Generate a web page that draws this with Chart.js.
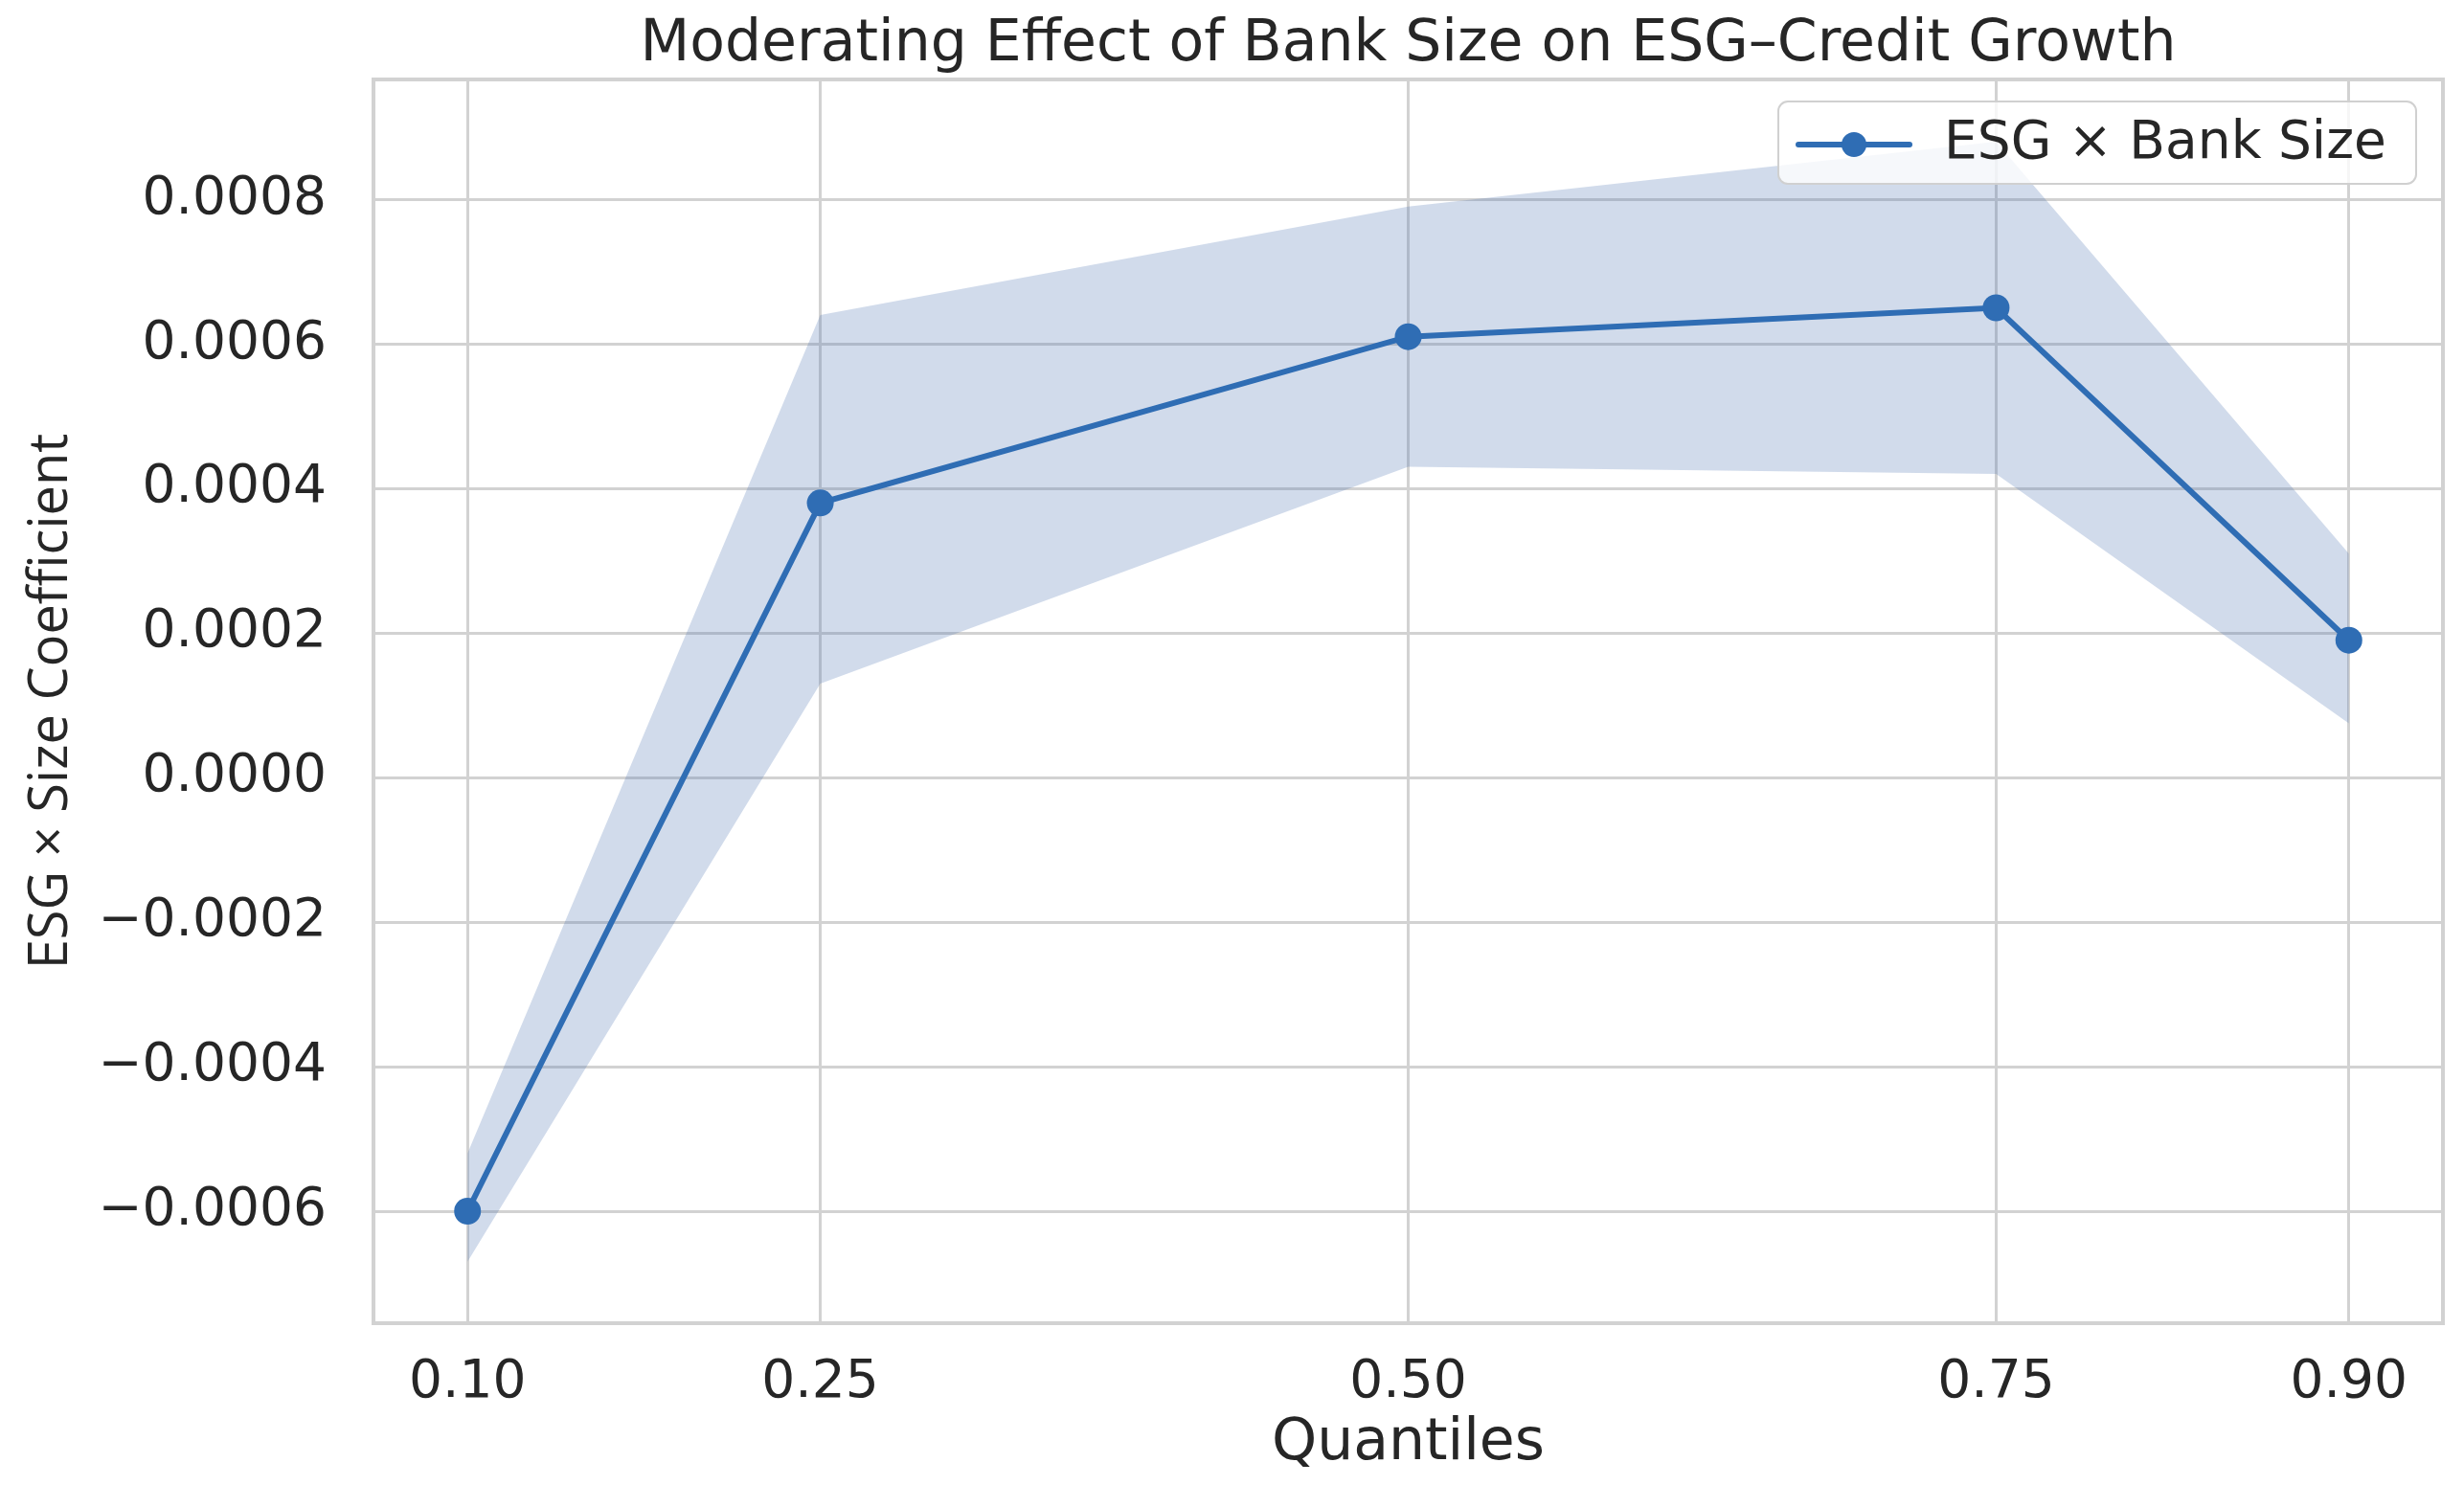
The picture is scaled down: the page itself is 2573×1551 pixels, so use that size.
<!DOCTYPE html>
<html>
<head>
<meta charset="utf-8">
<script src="https://cdn.jsdelivr.net/npm/chart.js@4.4.1/dist/chart.umd.min.js"></script>
<style>
  html, body { margin: 0; padding: 0; background: #ffffff; }
  #wrap { width: 2573px; height: 1551px; position: relative; }
</style>
</head>
<body>
<div id="wrap"><canvas id="c"></canvas></div>
<script>
// ---- data ----
const quantiles = [0.10, 0.25, 0.50, 0.75, 0.90];
const coef      = [-0.00060, 0.00038, 0.00061, 0.00065, 0.00019];
const ciLower   = [-0.00067, 0.00013, 0.00043, 0.00042, 0.000075];
const ciUpper   = [-0.00052, 0.00064, 0.00079, 0.00088, 0.00031];
const xTickLabels = ["0.10", "0.25", "0.50", "0.75", "0.90"];
const seriesName = "ESG \u00d7 Bank Size";
const titleText = "Moderating Effect of Bank Size on ESG\u2013Credit Growth";
const xTitle = "Quantiles";
const yTitle = "ESG \u00d7 Size Coefficient";

const pts = arr => quantiles.map((q, i) => ({ x: q, y: arr[i] }));

const LINE = '#2f6db4';
const BAND = 'rgba(76,114,176,0.26)';
const GRID = '#d2d2d2';
const TEXT = '#262626';
const FONT = "'DejaVu Sans', sans-serif";

const CHART_LEFT = 390, CHART_RIGHT_PAD = 22, CHART_BOTTOM = 1382;

function fmtY(v) {
  let s = Math.abs(v) < 1e-12 ? '0.0000' : Math.abs(v).toFixed(4);
  return (v < -1e-12 ? '\u2212' : '') + s;
}

const framePlugin = {
  id: 'frame',
  beforeDatasetsDraw(chart) {
    const a = chart.chartArea, ctx = chart.ctx;
    ctx.save();
    ctx.strokeStyle = GRID;
    ctx.lineWidth = 4;
    ctx.strokeRect(a.left, a.top, a.right - a.left, a.bottom - a.top);
    ctx.restore();
  }
};

const legendPlugin = {
  id: 'boxLegend',
  afterDatasetsDraw(chart) {
    const ctx = chart.ctx;
    const x0 = 1857, y0 = 106, w = 666, h = 86, r = 10;
    ctx.save();
    ctx.beginPath();
    ctx.roundRect(x0, y0, w, h, r);
    ctx.fillStyle = 'rgba(255,255,255,0.8)';
    ctx.fill();
    ctx.strokeStyle = '#d0d0d0';
    ctx.lineWidth = 2;
    ctx.stroke();
    const cy = y0 + h / 2 + 2;
    ctx.strokeStyle = LINE;
    ctx.lineWidth = 6;
    ctx.lineCap = 'round';
    ctx.beginPath();
    ctx.moveTo(1878, cy);
    ctx.lineTo(1994, cy);
    ctx.stroke();
    ctx.fillStyle = LINE;
    ctx.beginPath();
    ctx.arc(1936, cy, 13, 0, Math.PI * 2);
    ctx.fill();
    ctx.fillStyle = TEXT;
    ctx.font = "55px " + FONT;
    ctx.textBaseline = 'middle';
    ctx.textAlign = 'left';
    ctx.fillText(seriesName, 2030, cy);
    ctx.restore();
  }
};

new Chart(document.getElementById('c'), {
  type: 'line',
  data: {
    datasets: [
      {
        label: seriesName,
        data: pts(coef),
        borderColor: LINE,
        backgroundColor: LINE,
        borderWidth: 6,
        pointRadius: 14,
        pointHoverRadius: 14,
        pointBackgroundColor: LINE,
        pointBorderWidth: 0,
        fill: false,
        tension: 0
      },
      {
        label: 'upper',
        data: pts(ciUpper),
        borderWidth: 0,
        borderColor: 'rgba(0,0,0,0)',
        pointRadius: 0,
        backgroundColor: BAND,
        fill: '+1',
        tension: 0
      },
      {
        label: 'lower',
        data: pts(ciLower),
        borderWidth: 0,
        borderColor: 'rgba(0,0,0,0)',
        pointRadius: 0,
        fill: false,
        tension: 0
      }
    ]
  },
  options: {
    responsive: true,
    maintainAspectRatio: false,
    devicePixelRatio: 1,
    animation: false,
    layout: { padding: { left: 0, right: CHART_RIGHT_PAD, top: 0, bottom: 0 } },
    plugins: {
      legend: { display: false },
      tooltip: { enabled: false },
      title: {
        display: true,
        fullSize: false,
        text: titleText,
        color: TEXT,
        font: { family: FONT, size: 60, weight: 'normal', lineHeight: 1.2 },
        padding: { top: 11, bottom: 0 }
      }
    },
    scales: {
      x: {
        type: 'linear',
        min: 0.06,
        max: 0.94,
        afterBuildTicks(scale) { scale.ticks = quantiles.map(v => ({ value: v })); },
        afterFit(scale) { scale.height = 1551 - CHART_BOTTOM; },
        ticks: {
          callback: (v) => { const i = quantiles.indexOf(v); return i >= 0 ? xTickLabels[i] : ''; },
          color: TEXT,
          font: { family: FONT, size: 55 },
          padding: 30,
          maxRotation: 0,
          autoSkip: false
        },
        grid: { color: GRID, lineWidth: 3, drawTicks: false },
        border: { display: false },
        title: {
          display: true,
          text: xTitle,
          color: TEXT,
          font: { family: FONT, size: 60 },
          padding: { top: 0, bottom: 7 }
        }
      },
      y: {
        type: 'linear',
        min: -0.000755,
        max: 0.000966,
        afterFit(scale) { scale.width = CHART_LEFT; },
        ticks: {
          stepSize: 0.0002,
          includeBounds: false,
          callback: (v) => fmtY(v),
          color: TEXT,
          font: { family: FONT, size: 55 },
          padding: 49
        },
        grid: { color: GRID, lineWidth: 3, drawTicks: false },
        border: { display: false },
        title: {
          display: true,
          text: yTitle,
          color: TEXT,
          font: { family: "'Open Sans', sans-serif", size: 56 },
          padding: { top: 20, bottom: 0 }
        }
      }
    }
  },
  plugins: [framePlugin, legendPlugin]
});
</script>
</body>
</html>
